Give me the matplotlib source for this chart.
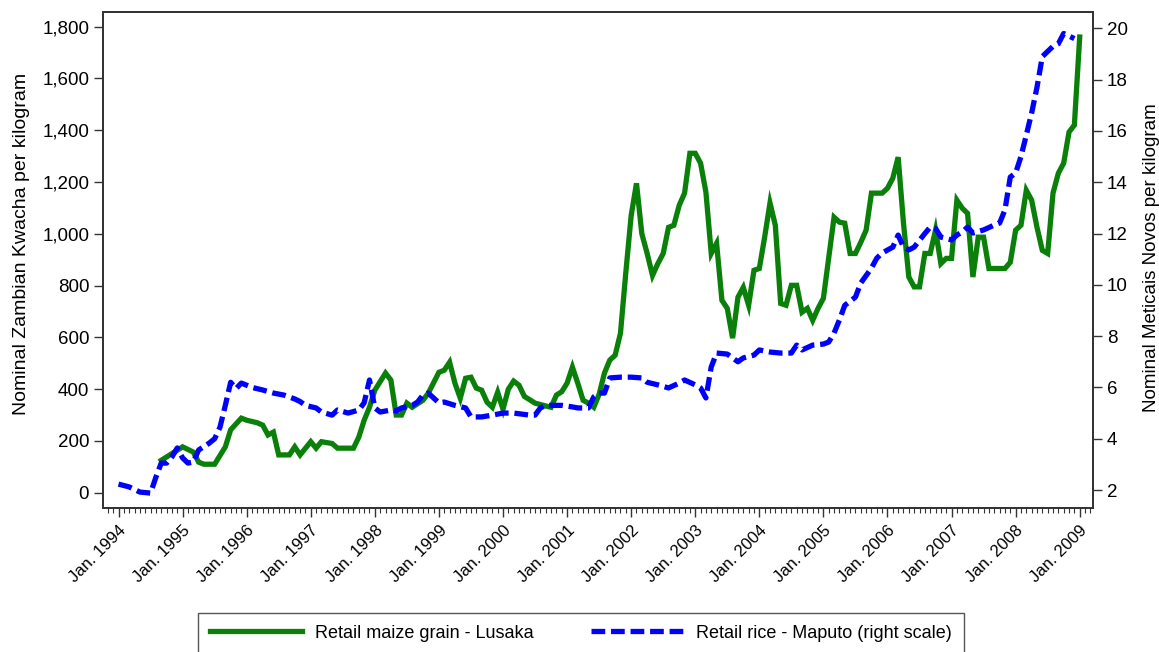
import matplotlib
matplotlib.use("Agg")
import matplotlib.pyplot as plt
from matplotlib.ticker import FuncFormatter, MultipleLocator

plt.rcParams['font.family'] = ['Liberation Sans', 'DejaVu Sans']
plt.rcParams['font.size'] = 13

# months counted from Jan. 1994 (0 = Jan. 1994)
maize_month = [8, 12, 14, 15, 16, 18, 20, 21, 23, 24, 26, 27, 28, 29, 30, 32, 33, 34,
               36, 37, 38, 40, 41, 44, 45, 46, 47, 48, 50, 51, 52, 53, 54, 55, 57, 58,
               60, 61, 62, 63, 64, 65, 66, 67, 68, 69, 70, 71, 72, 73, 74, 75, 76, 78,
               80, 81, 82, 83, 84, 85, 86, 87, 88, 89, 90, 91, 92, 93, 94, 95, 96, 97,
               98, 99, 100, 101, 102, 103, 104, 105, 106, 107, 108, 109, 110, 111, 112,
               113, 114, 115, 116, 117, 118, 119, 120, 121, 122, 123, 124, 125, 126,
               127, 128, 129, 130, 131, 132, 133, 134, 135, 136, 137, 138, 139, 140,
               141, 142, 143, 144, 145, 146, 147, 148, 149, 150, 151, 152, 153, 154,
               155, 156, 157, 158, 159, 160, 161, 162, 163, 165, 166, 167, 168, 169,
               170, 171, 172, 173, 174, 175, 176, 177, 178, 179, 180]
maize_lusaka = [125, 177, 157, 118, 110, 110, 177, 243, 288, 280, 270, 261, 223, 234, 146, 146, 177, 146,
                197, 172, 197, 190, 172, 172, 215, 280, 330, 396, 462, 435, 300, 300, 346, 330, 357, 384,
                465, 473, 504, 423, 365, 442, 446, 404, 396, 350, 330, 388, 322, 400, 431, 415, 372, 346,
                335, 330, 377, 390, 423, 485, 423, 357, 346, 330, 380, 462, 512, 531, 616, 850, 1070, 1195,
                1000, 924, 839, 885, 924, 1025, 1033, 1110, 1157, 1311, 1311, 1273, 1161, 924, 963,
                743, 712, 597, 755, 793, 724, 859, 866, 987, 1119, 1033, 731, 724, 801,
                801, 697, 712, 666, 712, 751, 909, 1064, 1045, 1041, 924, 924, 967, 1014,
                1157, 1157, 1157, 1176, 1215, 1296, 1041, 833, 795, 795, 924, 924, 1014, 885,
                905, 905, 1130, 1099, 1079, 833, 987, 987, 866, 866, 866, 890, 1014, 1033,
                1168, 1130, 1025, 936, 924, 1157, 1234, 1273, 1393, 1420, 1760]

rice_month = [0, 2, 4, 6, 7, 8, 9, 10, 11, 12, 13, 14, 15, 17, 18, 19, 20, 21, 22, 23, 25, 27,
              29, 31, 33, 34, 35, 37, 38, 40, 41, 43, 45, 46, 47, 48, 49, 51, 52, 53, 55, 56,
              57, 58, 60, 61, 63, 65, 66, 68, 70, 72, 74, 77, 78, 79, 80, 83, 85, 86, 88, 89,
              90, 91, 92, 94, 96, 98, 99, 101, 103, 105, 106, 108, 109, 110, 111, 112, 114,
              116, 117, 119, 120, 122, 124, 126, 127, 128, 130, 132, 133, 134, 135, 136, 138,
              139, 141, 142, 143, 145, 146, 147, 148, 149, 151, 152, 153, 154, 156, 157, 158,
              159, 160, 162, 164, 165, 166, 167, 168, 169, 170, 171, 172, 173, 174, 175, 176,
              177, 178, 179]
rice_maputo = [2.23, 2.12, 1.92, 1.88, 2.5, 3.05, 3.05, 3.29, 3.64, 3.25, 3.05, 3.09, 3.56, 3.83, 4.0, 4.45, 5.3, 6.2, 5.95, 6.17, 6.0, 5.9,
               5.78, 5.7, 5.55, 5.45, 5.3, 5.2, 5.04, 4.92, 5.12, 5.0, 5.12, 5.4, 6.29, 5.2, 5.04, 5.12, 5.08, 5.2, 5.3, 5.43,
               5.7, 5.78, 5.4, 5.43, 5.3, 5.2, 4.85, 4.85, 4.92, 5.0, 5.0, 4.92, 4.92, 5.2, 5.3, 5.3, 5.24, 5.2, 5.2, 5.63,
               5.78, 5.78, 6.37, 6.4, 6.4, 6.37, 6.2, 6.1, 5.98, 6.17, 6.29, 6.1, 5.98, 5.59, 6.8, 7.34, 7.3,
               7.0, 7.15, 7.26, 7.46, 7.38, 7.34, 7.34, 7.65, 7.46, 7.65, 7.69, 7.77, 8.12, 8.63, 9.2, 9.52,
               10.07, 10.65, 11.04, 11.24, 11.47, 11.94, 11.47, 11.36, 11.47, 12.0, 12.25, 12.2, 11.86, 11.75, 11.94, 12.06,
               12.25, 12.02, 12.14, 12.33, 12.41, 12.92, 14.2, 14.36, 15.0, 15.84, 16.7, 17.7, 18.9, 19.1, 19.3, 19.4,
               19.8, 19.7, 19.6]

years = list(range(1994, 2010))
year_labels = ["Jan. {}".format(y) for y in years]

fig = plt.figure(figsize=(11.59, 6.52), dpi=100)
ax = fig.add_axes([0.0889, 0.2209, 0.8542, 0.7612])
ax2 = ax.twinx()

green, = ax.plot(maize_month, maize_lusaka, color='#0a800a', lw=3.8, solid_joinstyle='miter')
blue, = ax2.plot(rice_month, rice_maputo, color='#0000ff', lw=3.8, dashes=(2.6, 1.1))

ax.set_xlim(-2.9, 182.5)
ax.set_ylim(-59, 1858)
ax2.set_ylim(1.30, 20.65)

ax.set_xticks([(y - 1994) * 12 for y in years])
ax.set_xticklabels(year_labels, rotation=45, ha='right', rotation_mode='anchor', fontsize=12)
ax.xaxis.set_minor_locator(MultipleLocator(1))
ax.set_yticks(range(0, 1801, 200))
ax.yaxis.set_major_formatter(FuncFormatter(lambda v, p: "{:,.0f}".format(v)))
ax2.set_yticks(range(2, 21, 2))

for a in (ax, ax2):
    for s in a.spines.values():
        s.set_color('#333333')
        s.set_linewidth(1.3)
ax.tick_params(axis='both', which='major', length=6.5, width=1, color='#333333', labelsize=13.5)
ax.tick_params(axis='x', which='major', labelsize=12, pad=4)
ax.tick_params(axis='x', which='minor', length=3.5, width=0.8, color='#333333')
ax2.tick_params(axis='y', length=6.5, width=1, color='#333333', labelsize=13.5)

ax.set_ylabel("Nominal Zambian Kwacha per kilogram", fontsize=14, labelpad=9)
ax.yaxis.label.set_y(0.531)
ax2.set_ylabel("Nominal Meticais Novos per kilogram", fontsize=13.5, labelpad=11)
ax2.yaxis.label.set_y(0.505)

leg = fig.legend([green, blue], ["Retail maize grain - Lusaka", "Retail rice - Maputo (right scale)"],
                 loc='upper left', bbox_to_anchor=(0.1708, 0.0603), borderaxespad=0, ncol=2,
                 fontsize=13, handlelength=5.1, handletextpad=0.72, columnspacing=3.2,
                 borderpad=0.66, fancybox=False, framealpha=1)
leg.get_frame().set_edgecolor('#555555')
leg.get_frame().set_linewidth(1.0)

fig.savefig("out.png", dpi=100)
